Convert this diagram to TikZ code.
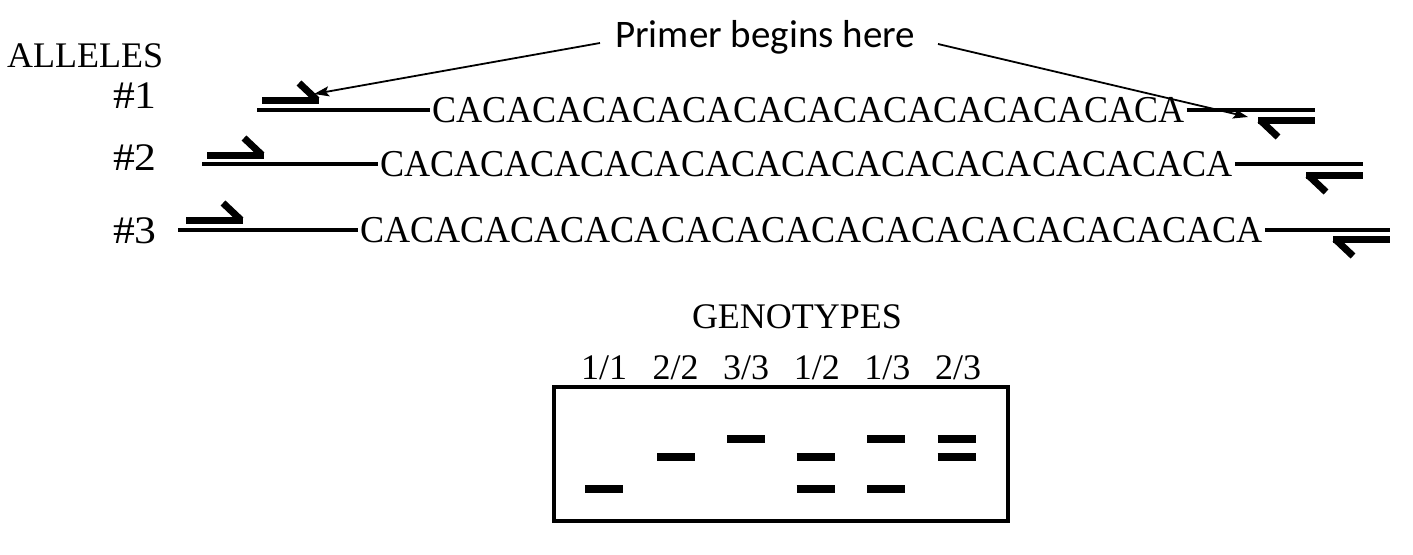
\documentclass[tikz,border=0pt]{standalone}
\usepackage{fontspec}
\usepackage{graphicx}
\setmainfont{Liberation Serif}
\newfontfamily\calibrifont{Carlito}
\usetikzlibrary{arrows.meta}
\begin{document}
\begin{tikzpicture}[x=1pt,y=-1pt,
  lbl/.style={font=\fontsize{36}{40}\selectfont, inner sep=0pt},
  numlbl/.style={font=\fontsize{39}{42}\selectfont, inner sep=0pt},
  seq/.style={font=\fontsize{38}{42}\selectfont, inner sep=0pt, inner xsep=2pt},
  dna/.style={line width=3.3pt},
  primer/.style={line width=7pt},
  band/.style={line width=8pt},
  gel/.style={draw, line width=4pt, inner sep=0pt},
  pointer/.style={line width=1.8pt,-{Stealth[length=15pt,width=10pt,inset=3pt]}},
  fwdprimer/.pic={\draw[primer] (0,0) -- (57,0); \draw[primer] (55,0) -- (37,-17);},
  revprimer/.pic={\draw[primer] (0,0) -- (57,0); \draw[primer] (2,0) -- (20,17);}
]
\useasboundingbox (0,0) rectangle (1413,554);

% labels
\node[lbl, anchor=base west] (alleles) at (7,67) {ALLELES};
\node[numlbl, anchor=base east] (n1) at (157,108) {\scalebox{1.12}[1]{\#1}};
\node[numlbl, anchor=base east] (n2) at (157,170) {\scalebox{1.12}[1]{\#2}};
\node[numlbl, anchor=base east] (n3) at (157,243) {\scalebox{1.12}[1]{\#3}};

% allele 1
\coordinate (l1) at (257,110);
\coordinate (r1) at (1315,110);
\node[seq, anchor=west] (s1) at (430,110) {\scalebox{0.95}[1]{CACACACACACACACACACACACACACACA}};
\draw[dna] (l1) -- (s1.west);
\draw[dna] (s1.east) -- (r1);

% allele 2
\coordinate (l2) at (202,164);
\coordinate (r2) at (1363,164);
\node[seq, anchor=west] (s2) at (378,164) {\scalebox{0.95}[1]{CACACACACACACACACACACACACACACACACA}};
\draw[dna] (l2) -- (s2.west);
\draw[dna] (s2.east) -- (r2);

% allele 3
\coordinate (l3) at (178,230);
\coordinate (r3) at (1390,230);
\node[seq, anchor=west] (s3) at (358,230) {\scalebox{0.95}[1]{CACACACACACACACACACACACACACACACACACA}};
\draw[dna] (l3) -- (s3.west);
\draw[dna] (s3.east) -- (r3);

% primers
\pic at (262,100) {fwdprimer};
\pic at (207,155) {fwdprimer};
\pic at (186,220) {fwdprimer};
\pic at (1258,120) {revprimer};
\pic at (1306,175) {revprimer};
\pic at (1333,239) {revprimer};

% primer callout
\node[font=\calibrifont\fontsize{39}{42}\selectfont, inner sep=0pt, anchor=base west] (primer) at (615,47) {Primer begins here};
\coordinate (a1s) at (600,43);
\coordinate (a1e) at (314,94);
\coordinate (a2s) at (938,44);
\coordinate (a2e) at (1248,117);
\draw[pointer] (a1s) -- (a1e);
\draw[pointer] (a2s) -- (a2e);

% genotypes
\node[lbl, anchor=base] (geno) at (797,328) {GENOTYPES};
\node[lbl, anchor=base] (g1) at (604,379) {1/1};
\node[lbl, anchor=base] (g2) at (675.6,379) {2/2};
\node[lbl, anchor=base] (g3) at (746.2,379) {3/3};
\node[lbl, anchor=base] (g4) at (816.8,379) {1/2};
\node[lbl, anchor=base] (g5) at (887.4,379) {1/3};
\node[lbl, anchor=base] (g6) at (958,379) {2/3};

\node[gel, minimum width=454pt, minimum height=134pt] (gelbox) at (781,454) {};
\foreach \x/\y in {604/489, 676/456.5, 746/439, 815.5/456.5, 815.5/489, 886/439, 886/489, 956.5/439, 956.5/456.5}
  \draw[band] (\x-19,\y) -- (\x+19,\y);
\end{tikzpicture}
\end{document}
